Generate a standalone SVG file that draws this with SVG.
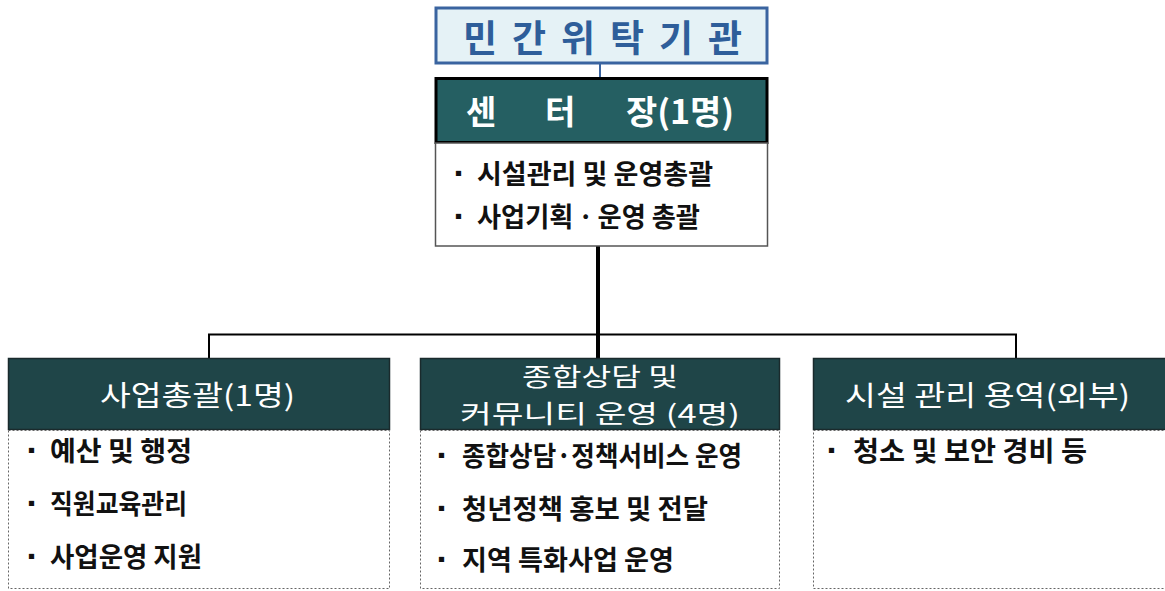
<svg xmlns="http://www.w3.org/2000/svg" width="1165" height="591" viewBox="0 0 1165 591">
<style>
.t{font-family:"Noto Sans CJK KR","Noto Sans",sans-serif}
.hd{fill:#1f4548;stroke:#1a2a2c;stroke-width:1.5}
.bd{fill:#fff;stroke:#666;stroke-width:1;stroke-dasharray:2 2}
.ht{font-size:28px;fill:#fff}
.bt{font-size:27px;fill:#111;font-weight:bold}
.bl{font-size:19px;fill:#111}
</style>
<g id="connectors" fill="none">
<line x1="600" y1="64" x2="600" y2="78" stroke="#3a64a0" stroke-width="2"/>
<line x1="598" y1="246" x2="598" y2="358" stroke="#000" stroke-width="4"/>
<polyline points="209,358 209,334.5 1016,334.5 1016,358" stroke="#000" stroke-width="2"/>
</g>
<g id="top">
<rect x="436" y="8" width="331" height="55" fill="#e5f2f6" stroke="#3a64a0" stroke-width="3"/>
<text class="t" x="463" y="52" font-size="37" font-weight="bold" fill="#2e5e9a" textLength="279" lengthAdjust="spacing">민 간 위 탁 기 관</text>
</g>
<g id="center">
<rect x="436" y="78.5" width="331" height="64" fill="#255f62" stroke="#000" stroke-width="3"/>
<text class="t" font-size="33" font-weight="bold" fill="#fff" y="124"><tspan x="466">센</tspan><tspan x="545">터</tspan></text>
<text class="t" x="626" y="124" font-size="33" font-weight="bold" fill="#fff" textLength="108" lengthAdjust="spacingAndGlyphs">장(1명)</text>
<rect x="435.5" y="143" width="332" height="103" fill="#fff" stroke="#555" stroke-width="1.5"/>
<text class="t bl" x="449" y="181">▪</text>
<text class="t bt" x="477" y="184" textLength="236" lengthAdjust="spacingAndGlyphs">시설관리 및 운영총괄</text>
<text class="t bl" x="449" y="224">▪</text>
<text class="t bt" x="477" y="227" textLength="223" lengthAdjust="spacingAndGlyphs">사업기획ㆍ운영 총괄</text>
</g>
<g id="left">
<rect class="hd" x="8.5" y="358.5" width="381" height="71"/>
<text class="t ht" x="100" y="406" textLength="195" lengthAdjust="spacingAndGlyphs">사업총괄(1명)</text>
<rect class="bd" x="8.5" y="430.5" width="381" height="158"/>
<text class="t bl" x="22" y="458">▪</text>
<text class="t bt" x="50" y="461" textLength="142" lengthAdjust="spacingAndGlyphs">예산 및 행정</text>
<text class="t bl" x="22" y="511">▪</text>
<text class="t bt" x="50" y="514" textLength="137" lengthAdjust="spacingAndGlyphs">직원교육관리</text>
<text class="t bl" x="22" y="564">▪</text>
<text class="t bt" x="50" y="567" textLength="152" lengthAdjust="spacingAndGlyphs">사업운영 지원</text>
</g>
<g id="middle">
<rect class="hd" x="420.5" y="358.5" width="359" height="71"/>
<text class="t" font-size="25" fill="#fff"><tspan x="522" y="386" textLength="156" lengthAdjust="spacingAndGlyphs">종합상담 및</tspan><tspan x="460" y="423" textLength="280" lengthAdjust="spacingAndGlyphs">커뮤니티 운영 (4명)</tspan></text>
<rect class="bd" x="420.5" y="430.5" width="359" height="158"/>
<text class="t bl" x="432" y="463">▪</text>
<text class="t bt" x="462" y="466" textLength="280" lengthAdjust="spacingAndGlyphs">종합상담·정책서비스 운영</text>
<text class="t bl" x="432" y="516">▪</text>
<text class="t bt" x="462" y="519" textLength="246" lengthAdjust="spacingAndGlyphs">청년정책 홍보 및 전달</text>
<text class="t bl" x="432" y="567">▪</text>
<text class="t bt" x="462" y="570" textLength="212" lengthAdjust="spacingAndGlyphs">지역 특화사업 운영</text>
</g>
<g id="right">
<rect class="hd" x="813.5" y="358.5" width="360" height="71"/>
<text class="t ht" x="845" y="406" textLength="285" lengthAdjust="spacingAndGlyphs">시설 관리 용역(외부)</text>
<rect class="bd" x="813.5" y="430.5" width="360" height="158"/>
<text class="t bl" x="822" y="458">▪</text>
<text class="t bt" x="853" y="461" textLength="234" lengthAdjust="spacingAndGlyphs">청소 및 보안 경비 등</text>
</g>
</svg>
